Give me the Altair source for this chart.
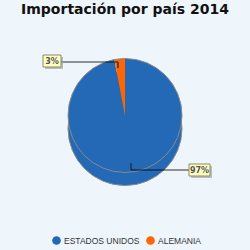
import altair as alt
import pandas as pd

paises = ["ESTADOS UNIDOS", "ALEMANIA"]
valores = [97, 3]
colores = ["#2369B5", "#FF6600"]
titulo = "Importación por país 2014"

df = pd.DataFrame({"pais": paises, "valor": valores, "orden": list(range(len(paises)))})
df["etiqueta"] = df["valor"].astype(str) + "%"

BG = "#EEF5FB"
CX, CY, R, DEPTH = 125, 115.5, 57, 13

base = alt.Chart(df)

side = base.transform_aggregate(total="sum(valor)").mark_circle(
    size=(2 * R) ** 2, opacity=1, fill=colores[0], stroke="#8a8a8a", strokeWidth=1
).encode(x=alt.value(CX), y=alt.value(CY + DEPTH))

pie = base.mark_arc(radius=R, stroke=None).encode(
    theta=alt.Theta("valor:Q", stack=True),
    order=alt.Order("orden:O"),
    color=alt.Color(
        "pais:N",
        scale=alt.Scale(domain=paises, range=colores),
        sort=paises,
        legend=alt.Legend(
            title=None,
            orient="none",
            legendX=52,
            legendY=236,
            direction="horizontal",
            symbolType="circle",
            symbolSize=75,
            symbolStrokeWidth=0,
            labelFont="Liberation Sans",
            labelFontSize=8.5,
            labelColor="#333333",
            labelOffset=3,
            columnPadding=6,
        ),
    ),
    x=alt.value(CX),
    y=alt.value(CY),
)

rim = base.transform_aggregate(total="sum(valor)").mark_circle(
    size=(2 * R) ** 2, filled=False, stroke="#8a8a8a", strokeWidth=1, opacity=1
).encode(x=alt.value(CX), y=alt.value(CY))

title = alt.Chart(pd.DataFrame({"t": [titulo]})).mark_text(
    font="DejaVu Sans", fontSize=14, fontWeight="bold", color="#111111", align="center", baseline="middle"
).encode(text="t:N", x=alt.value(125), y=alt.value(10))

# leader lines
line_style = dict(color="#000000", opacity=0.45, strokeWidth=1)
l1 = base.mark_rule(**line_style).encode(x=alt.value(61), x2=alt.value(118), y=alt.value(62))
l2 = base.mark_rule(color="#333333", strokeWidth=1).encode(x=alt.value(118), y=alt.value(62), y2=alt.value(68))
l3 = base.mark_rule(color="#222222", opacity=0.7, strokeWidth=1).encode(x=alt.value(131), y=alt.value(163), y2=alt.value(170))
l4 = base.mark_rule(**line_style).encode(x=alt.value(131), x2=alt.value(189), y=alt.value(170))

def caja(pais, x1, x2, y1, y2):
    d = base.transform_filter(alt.datum.pais == pais)
    sombra = d.mark_rect(fill="#999999", opacity=0.6).encode(
        x=alt.value(x1 + 2), x2=alt.value(x2 + 2), y=alt.value(y1 + 2), y2=alt.value(y2 + 2)
    )
    rect = d.mark_rect(fill="#FFFFC4", stroke="#8C8C5A", strokeWidth=1).encode(
        x=alt.value(x1), x2=alt.value(x2), y=alt.value(y1), y2=alt.value(y2)
    )
    txt = d.mark_text(
        font="DejaVu Sans", fontSize=8, fontWeight="bold", color="#555555", align="center", baseline="middle"
    ).encode(text="etiqueta:N", x=alt.value((x1 + x2) / 2), y=alt.value((y1 + y2) / 2 + 0.5))
    return sombra + rect + txt

box_de = caja("ALEMANIA", 43, 61, 55, 67)
box_us = caja("ESTADOS UNIDOS", 189, 210, 164, 176)

chart = alt.layer(side, pie, rim, l1, l2, l3, l4, box_de, box_us, title).properties(
    width=250, height=250, background=BG, padding=0, autosize=alt.AutoSizeParams(type="none")
).configure_view(stroke=None)

chart.save("out.html", embed_options={"renderer": "svg", "actions": False})
